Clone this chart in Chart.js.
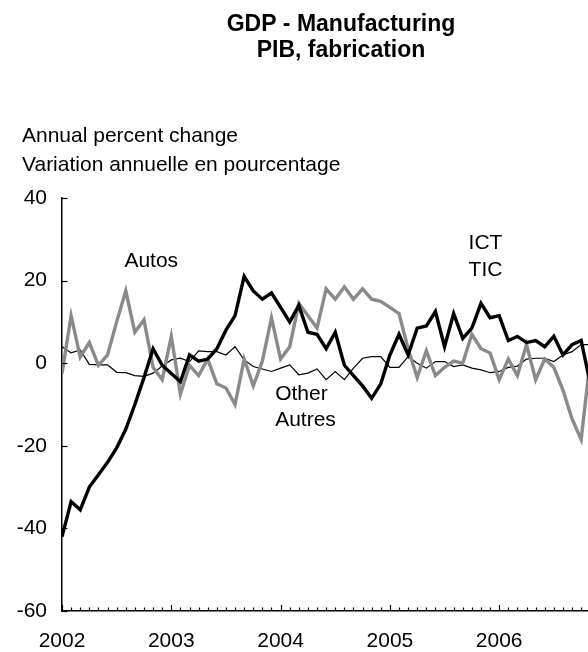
<!DOCTYPE html>
<html>
<head>
<meta charset="utf-8">
<script src="https://cdn.jsdelivr.net/npm/chart.js@4"></script>
<style>
  html, body { margin: 0; padding: 0; background: #fff; }
  canvas { display: block; }
</style>
</head>
<body>
<canvas id="myChart" width="588" height="652"></canvas>
<script>
// monthly observations, Jan 2002 onward
const startYear = 2002;
const yearTicks = ["2002", "2003", "2004", "2005", "2006"];
const ict = [
  -42, -33.5, -35.5, -30, -27, -24, -20.5, -16, -10, -3.5, 3.5, -0.5,
  -2.5, -4.5, 2, 0.5, 1, 3.5, 8, 11.5, 21, 17.5, 15.5, 17,
  13.5, 10, 14, 7.5, 7, 3.5, 7.5, -0.5, -3, -5.5, -8.5, -5,
  2, 7, 2, 8.5, 9, 12.5, 4, 12, 6, 8.5, 14.5, 11,
  11.5, 5.5, 6.5, 5, 5.5, 4, 6.5, 2, 4.5, 5.5, -5
];
const autos = [
  -2.5, 11.5, 1.5, 5, -0.5, 2, 10, 17.5, 7.5, 10.5, -1, -4,
  6.5, -7.5, -0.5, -3, 1, -5, -6, -10, 1, -5.5, 0.5, 11,
  1, 4, 14.5, 11.5, 8.5, 18, 15.5, 18.5, 15.5, 18, 15.5, 15,
  13.5, 12, 3.5, -3.5, 3, -3, -1, 0.5, 0, 7, 3.5, 2.5,
  -4, 1, -3, 4.5, -4, 1, -1, -6.5, -13.5, -18.5, 1
];
const other = [
  4, 2.5, 3.2, -0.3, -0.4, -0.4, -2.2, -2.3, -3, -3.2, -2.4, -0.7,
  0.8, 1.2, 0.4, 3, 2.8, 2.8, 2, 4, 0.8, -0.8, -1.4, -2,
  -1.2, -0.4, -2.8, -2.4, -1.4, -4, -2, -4, -1.2, 1.2, 1.6, 1.6,
  -1, -1, 1.6, 0, -1.2, 0.4, 0.4, -0.8, -0.4, -1.2, -1.6, -2.3,
  -2, -1, -0.7, 1, 1.2, 1.2, 0.4, 2, 2.8, 4.5, 4.5
];

const FONT = "'Liberation Sans', Arial, Helvetica, sans-serif";
const toPoints = arr => arr.map((v, i) => ({ x: i, y: v }));

const textPlugin = {
  id: 'texts',
  afterDraw(chart) {
    const ctx = chart.ctx;
    const xs = chart.scales.x, ys = chart.scales.y;
    const area = chart.chartArea;
    ctx.save();
    ctx.strokeStyle = '#000';
    ctx.lineWidth = 1.2;
    // month ticks pointing into the plot
    for (let m = 0; m <= Math.floor(xs.max); m++) {
      const px = Math.round(xs.getPixelForValue(m)) + 0.5;
      const len = m % 12 === 0 ? 6 : 3.5;
      ctx.beginPath();
      ctx.moveTo(px, area.bottom);
      ctx.lineTo(px, area.bottom - len);
      ctx.stroke();
    }
    for (let v = -60; v <= 40; v += 20) {
      const py = Math.round(ys.getPixelForValue(v)) + 0.5;
      ctx.beginPath();
      ctx.moveTo(area.left, py);
      ctx.lineTo(area.left + 5.5, py);
      ctx.stroke();
    }
    ctx.fillStyle = '#000';
    ctx.textBaseline = 'middle';
    // title
    ctx.font = 'bold 23px ' + FONT;
    ctx.textAlign = 'center';
    ctx.fillText('GDP - Manufacturing', 341, 25);
    ctx.fillText('PIB, fabrication', 341, 51);
    // axis caption
    ctx.font = '21px ' + FONT;
    ctx.textAlign = 'left';
    ctx.fillText('Annual percent change', 22, 136);
    ctx.fillText('Variation annuelle en pourcentage', 22, 165);
    // series labels
    ctx.textAlign = 'center';
    ctx.fillText('Autos', xs.getPixelForValue(9.8), ys.getPixelForValue(24.7));
    ctx.fillText('ICT', xs.getPixelForValue(46.5), ys.getPixelForValue(29));
    ctx.fillText('TIC', xs.getPixelForValue(46.5), ys.getPixelForValue(22.6));
    ctx.textAlign = 'left';
    ctx.fillText('Other', xs.getPixelForValue(23.4), ys.getPixelForValue(-7.4));
    ctx.fillText('Autres', xs.getPixelForValue(23.4), ys.getPixelForValue(-13.7));
    ctx.restore();
  }
};

new Chart("myChart", {
  type: "line",
  data: {
    datasets: [{
      label: "ICT / TIC",
      data: toPoints(ict),
      borderColor: "#000000",
      borderWidth: 3.4,
      pointRadius: 0,
      tension: 0,
      fill: false
    }, {
      label: "Autos",
      data: toPoints(autos),
      borderColor: "#8a8a8a",
      borderWidth: 3.4,
      pointRadius: 0,
      tension: 0,
      fill: false
    }, {
      label: "Other / Autres",
      data: toPoints(other),
      borderColor: "#000000",
      borderWidth: 1.2,
      pointRadius: 0,
      tension: 0,
      fill: false
    }]
  },
  options: {
    responsive: false,
    animation: false,
    layout: { padding: { top: 198, right: 0, bottom: 0, left: 0 } },
    plugins: {
      legend: { display: false },
      title: { display: false },
      tooltip: { enabled: false }
    },
    scales: {
      x: {
        type: 'linear',
        min: 0,
        max: 57.75,
        afterFit: s => { s.height = 41; },
        afterBuildTicks: s => { s.ticks = s.ticks.filter(t => t.value % 12 === 0); },
        grid: { display: true, drawOnChartArea: false, drawTicks: false },
        border: { display: true, color: '#000', width: 1.5 },
        ticks: {
          stepSize: 12,
          includeBounds: false,
          autoSkip: false,
          maxRotation: 0,
          padding: 18,
          color: '#000',
          font: { family: FONT, size: 21 },
          callback: v => (v % 12 === 0 ? (yearTicks[v / 12] || String(startYear + v / 12)) : '')
        }
      },
      y: {
        min: -60,
        max: 40,
        afterFit: s => { s.width = 62; },
        grid: { display: true, drawOnChartArea: false, drawTicks: false },
        border: { display: true, color: '#000', width: 1.5 },
        ticks: {
          stepSize: 20,
          padding: 15,
          color: '#000',
          font: { family: FONT, size: 21 }
        }
      }
    }
  },
  plugins: [textPlugin]
});
</script>
</body>
</html>
